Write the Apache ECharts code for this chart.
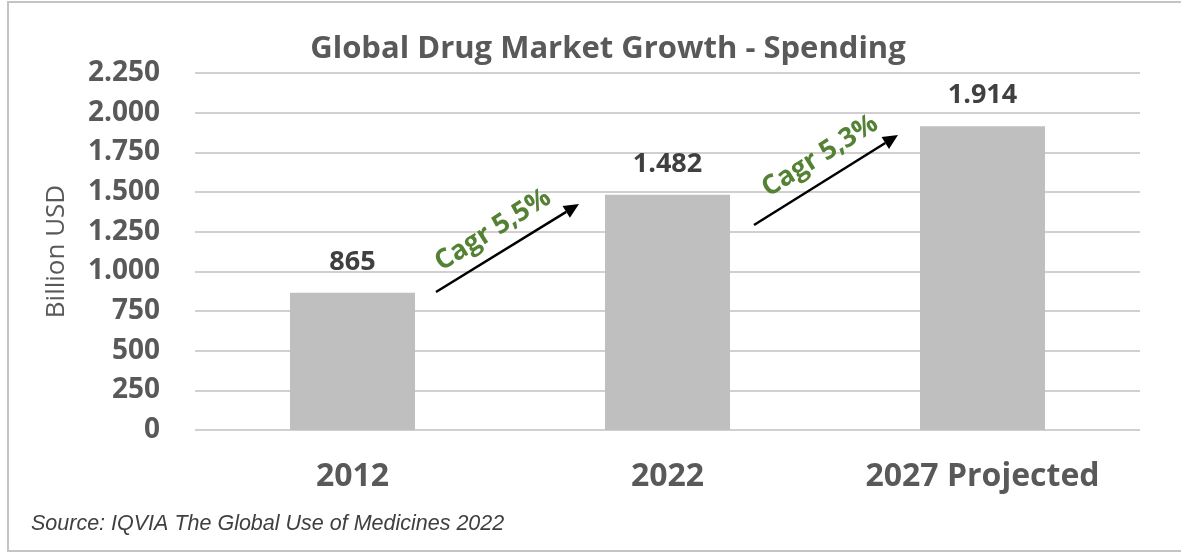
<!DOCTYPE html>
<html>
<head>
<meta charset="utf-8">
<script src="https://cdn.jsdelivr.net/npm/echarts@6/dist/echarts.min.js"></script>
<style>html,body{margin:0;padding:0;background:#fff;}#c{width:1181px;height:553px;}</style>
</head>
<body>
<div id="c"></div>
<script>
const categories = ['2012', '2022', '2027 Projected'];
const spending = [865, 1482, 1914];
const yMin = 0, yMax = 2250, yInterval = 250;
const cagrLabels = ['Cagr 5,5%', 'Cagr 5,3%'];

function fmt(v) { return String(v).replace(/\B(?=(\d{3})+(?!\d))/g, '.'); }

const FONT = '"Open Sans", Lato, sans-serif';
const chart = echarts.init(document.getElementById('c'));

function arrow(x1, y1, x2, y2) {
  const ang = Math.atan2(y2 - y1, x2 - x1);
  const L = 15, W = 7;
  const bx = x2 - L * Math.cos(ang), by = y2 - L * Math.sin(ang);
  const px = -Math.sin(ang) * W, py = Math.cos(ang) * W;
  return [
    { type: 'line', shape: { x1: x1, y1: y1, x2: bx, y2: by }, style: { stroke: '#000', lineWidth: 2.5 }, z: 10 },
    { type: 'polygon', shape: { points: [[x2, y2], [bx + px, by + py], [bx - px, by - py]] }, style: { fill: '#000' }, z: 10 }
  ];
}

const graphics = [
  { type: 'rect', shape: { x: 8, y: 2, width: 1185, height: 549 }, style: { fill: null, stroke: '#c4c4c4', lineWidth: 2 }, z: -1 },
  { type: 'text', left: 31, top: 513, style: { text: 'Source: IQVIA The Global Use of Medicines 2022', font: 'italic 21.5px "Liberation Sans", Arial, sans-serif', fill: '#404040' } },
  { type: 'text', x: 493, y: 230, rotation: 32 * Math.PI / 180, style: { text: cagrLabels[0], font: 'bold 27px ' + FONT, fill: '#548235', align: 'center', verticalAlign: 'middle' }, z: 11 },
  { type: 'text', x: 820, y: 156, rotation: 32 * Math.PI / 180, style: { text: cagrLabels[1], font: 'bold 27px ' + FONT, fill: '#548235', align: 'center', verticalAlign: 'middle' }, z: 11 }
].concat(arrow(436, 292, 579, 204)).concat(arrow(754, 225, 898, 135));

chart.setOption({
  animation: false,
  backgroundColor: '#fff',
  title: {
    text: 'Global Drug Market Growth - Spending',
    left: 603, top: 29, textAlign: 'center',
    textStyle: { fontFamily: FONT, fontWeight: 'bold', fontSize: 31, color: '#595959' }
  },
  grid: { left: 195, right: 41, top: 73, bottom: 123 },
  xAxis: {
    type: 'category',
    data: categories,
    axisLine: { show: false },
    axisTick: { show: false },
    axisLabel: { margin: 31, fontFamily: FONT, fontWeight: 'bold', fontSize: 32, color: '#595959' }
  },
  yAxis: {
    type: 'value',
    min: yMin, max: yMax, interval: yInterval,
    name: 'Billion USD',
    nameLocation: 'middle',
    nameRotate: 90,
    nameGap: 125,
    nameTextStyle: { fontFamily: FONT, fontSize: 26, color: '#595959' },
    axisLine: { show: false },
    axisTick: { show: false },
    splitLine: { lineStyle: { color: '#d0d0d0', width: 2 } },
    axisLabel: { margin: 35, fontFamily: FONT, fontWeight: 'bold', fontSize: 28, color: '#595959', formatter: fmt }
  },
  series: [{
    type: 'bar',
    data: spending,
    barWidth: 125,
    itemStyle: { color: '#bfbfbf' },
    label: { show: true, position: 'top', distance: 17, fontFamily: FONT, fontWeight: 'bold', fontSize: 27, color: '#404040', formatter: p => fmt(p.value) }
  }],
  graphic: graphics
});
</script>
</body>
</html>
